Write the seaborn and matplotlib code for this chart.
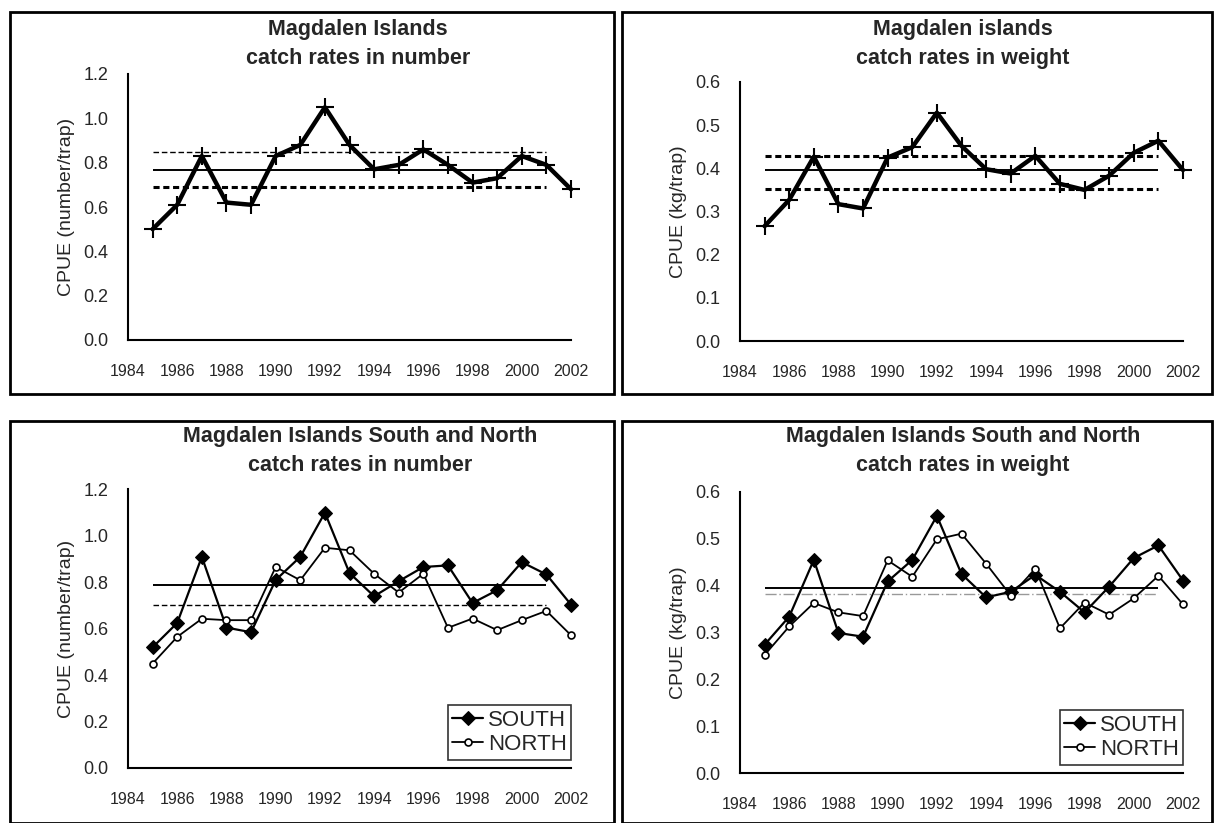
import matplotlib
matplotlib.use("Agg")
import matplotlib.pyplot as plt
import seaborn as sns
from matplotlib.patches import Rectangle
from matplotlib.ticker import MultipleLocator, FormatStrFormatter

# data
years = list(range(1985, 2003))

all_number = [0.50, 0.61, 0.83, 0.62, 0.61, 0.83, 0.88, 1.05, 0.88, 0.77,
              0.79, 0.86, 0.79, 0.71, 0.73, 0.83, 0.79, 0.68]
all_weight = [0.266, 0.327, 0.427, 0.317, 0.307, 0.425, 0.449, 0.529, 0.452, 0.398,
              0.388, 0.429, 0.364, 0.350, 0.383, 0.436, 0.464, 0.396]

south_number = [0.52, 0.625, 0.91, 0.605, 0.585, 0.81, 0.91, 1.10, 0.84, 0.74,
                0.805, 0.866, 0.873, 0.711, 0.766, 0.887, 0.834, 0.704]
north_number = [0.45, 0.565, 0.643, 0.637, 0.637, 0.866, 0.809, 0.949, 0.938, 0.837,
                0.756, 0.837, 0.604, 0.644, 0.594, 0.637, 0.677, 0.572]

south_weight = [0.274, 0.334, 0.455, 0.299, 0.291, 0.409, 0.455, 0.549, 0.425, 0.375,
                0.387, 0.423, 0.387, 0.343, 0.398, 0.459, 0.486, 0.411]
north_weight = [0.252, 0.313, 0.363, 0.343, 0.335, 0.454, 0.419, 0.499, 0.511, 0.447,
                0.379, 0.436, 0.309, 0.364, 0.338, 0.373, 0.421, 0.360]

ref_years = [1985, 2001]
number_ref = {"mean": 0.767, "upper": 0.847, "lower": 0.690}
weight_ref = {"mean": 0.396, "upper": 0.429, "lower": 0.351}
sn_number_ref = {"mean": 0.790, "lower": 0.704}
sn_weight_ref = {"mean": 0.395, "lower": 0.382}

titles = ["Magdalen Islands\ncatch rates in number",
          "Magdalen islands\ncatch rates in weight",
          "Magdalen Islands South and North\ncatch rates in number",
          "Magdalen Islands South and North\ncatch rates in weight"]
ylabels = ["CPUE (number/trap)", "CPUE (kg/trap)", "CPUE (number/trap)", "CPUE (kg/trap)"]

sns.set_style("white")
plt.rcParams["font.family"] = ["Liberation Sans", "DejaVu Sans"]

W, H = 1215, 823
fig = plt.figure(figsize=(W / 100, H / 100), dpi=100)


def px_axes(left, top, right, bottom):
    return fig.add_axes([left / W, 1 - bottom / H, (right - left) / W, (bottom - top) / H])


def px_box(left, top, right, bottom):
    fig.patches.append(Rectangle((left / W, 1 - bottom / H), (right - left) / W, (bottom - top) / H,
                                 transform=fig.transFigure, fill=False, edgecolor="black",
                                 linewidth=2.0, zorder=0))


def style_axes(ax, ymax, ystep, ylabel):
    ax.set_xlim(1984, 2002)
    ax.set_ylim(0, ymax)
    ax.xaxis.set_major_locator(MultipleLocator(2))
    ax.xaxis.set_minor_locator(MultipleLocator(1))
    ax.yaxis.set_major_locator(MultipleLocator(ystep))
    ax.yaxis.set_major_formatter(FormatStrFormatter("%.1f"))
    for s in ["top", "right"]:
        ax.spines[s].set_visible(False)
    for s in ["left", "bottom"]:
        ax.spines[s].set_linewidth(1.5)
        ax.spines[s].set_color("black")
    ax.tick_params(which="both", direction="out", length=5, width=1.5, color="black")
    ax.tick_params(axis="x", labelsize=11.5, pad=12)
    ax.tick_params(axis="y", labelsize=13, pad=9)
    ax.set_xlabel("")
    ax.set_ylabel(ylabel, fontsize=14, labelpad=6)
    ax.patch.set_alpha(0)


def ref_lines(ax, ref, lower_style, upper_style=None):
    ax.hlines(ref["mean"], ref_years[0], ref_years[1], colors="black", linewidth=1.4)
    ax.hlines(ref["lower"], ref_years[0], ref_years[1], **lower_style)
    if upper_style is not None:
        ax.hlines(ref["upper"], ref_years[0], ref_years[1], **upper_style)


# panel frames
px_box(10, 12, 614, 394)
px_box(622, 12, 1212, 394)
px_box(10, 421, 614, 823)
px_box(622, 421, 1212, 823)

thin_dash = dict(colors="black", linewidth=1.0, linestyles=(0, (4, 2)))
thick_dot = dict(colors="black", linewidth=2.2, linestyles=(0, (2, 1.2)))
grey_dashdot = dict(colors="#999999", linewidth=1.0, linestyles=(0, (8, 2, 1, 2)))

# top left
ax1 = px_axes(128, 74, 571, 340)
ref_lines(ax1, number_ref, thick_dot, thin_dash)
sns.lineplot(x=years, y=all_number, ax=ax1, color="black", linewidth=3.2, marker="+",
             markersize=13, markeredgewidth=1.5, markeredgecolor="black", clip_on=False)
style_axes(ax1, 1.2, 0.2, ylabels[0])

# top right
ax2 = px_axes(740, 82, 1183, 341)
ref_lines(ax2, weight_ref, thick_dot, thick_dot)
sns.lineplot(x=years, y=all_weight, ax=ax2, color="black", linewidth=3.2, marker="+",
             markersize=13, markeredgewidth=1.5, markeredgecolor="black", clip_on=False)
style_axes(ax2, 0.6, 0.1, ylabels[1])

# bottom panels: south and north
south_kw = dict(color="black", linewidth=1.6, marker="D", markersize=7,
                markerfacecolor="black", markeredgecolor="black", clip_on=False, label="SOUTH")
north_kw = dict(color="black", linewidth=1.3, marker="o", markersize=5,
                markerfacecolor="white", markeredgecolor="black", markeredgewidth=1.2,
                clip_on=False, label="NORTH")

ax3 = px_axes(128, 489.5, 571, 768)
ref_lines(ax3, sn_number_ref, thin_dash)
sns.lineplot(x=years, y=south_number, ax=ax3, **south_kw)
sns.lineplot(x=years, y=north_number, ax=ax3, **north_kw)
style_axes(ax3, 1.2, 0.2, ylabels[2])

ax4 = px_axes(740, 492, 1183, 773)
ref_lines(ax4, sn_weight_ref, grey_dashdot)
sns.lineplot(x=years, y=south_weight, ax=ax4, **south_kw)
sns.lineplot(x=years, y=north_weight, ax=ax4, **north_kw)
style_axes(ax4, 0.6, 0.1, ylabels[3])

for ax in (ax3, ax4):
    leg = ax.legend(loc="lower right", bbox_to_anchor=(1.0, 0.03), borderaxespad=0,
                    fontsize=16, frameon=True, fancybox=False, handlelength=1.4,
                    handletextpad=0.2, borderpad=0.2, labelspacing=0.15)
    leg.get_frame().set_edgecolor("black")
    leg.get_frame().set_linewidth(1.2)

# titles
title_pos = [(358, 44), (963, 44), (360, 451), (963, 451)]
for (tx, ty), t in zip(title_pos, titles):
    fig.text(tx / W, 1 - ty / H, t, ha="center", va="center", fontsize=15.5,
             fontweight="bold", linespacing=1.45)

fig.savefig("out.png", dpi=100)
